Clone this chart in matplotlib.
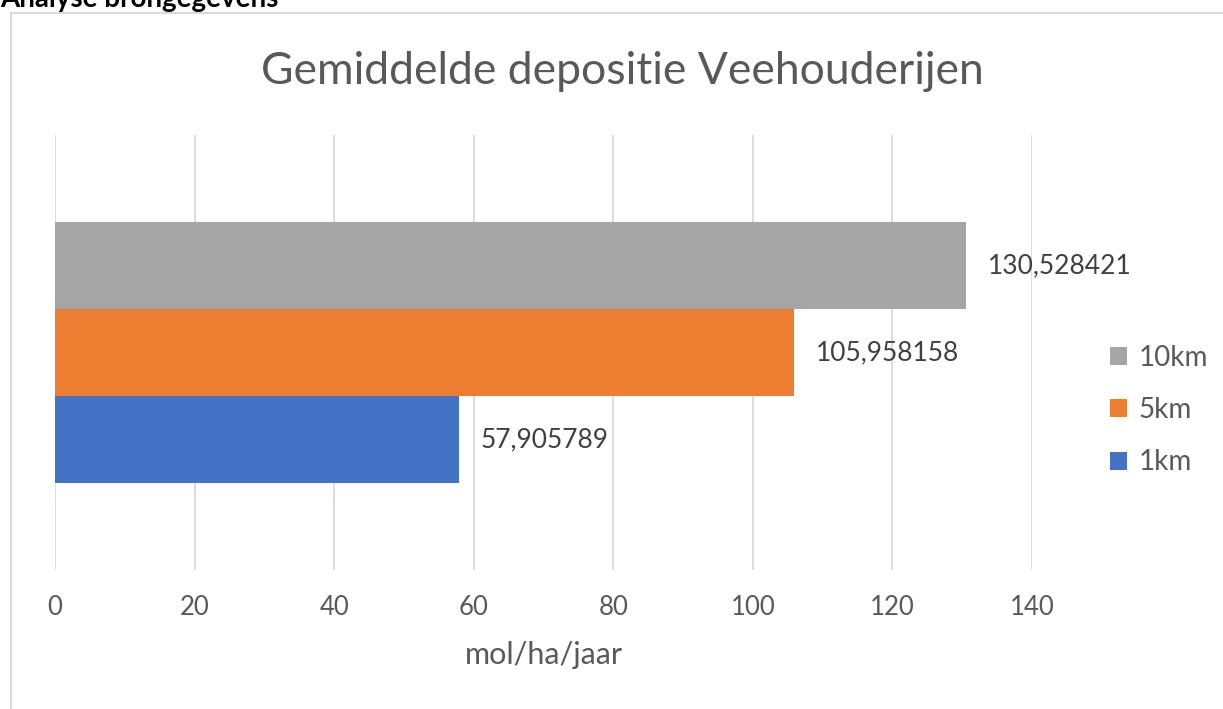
import matplotlib.pyplot as plt
from matplotlib.patches import Rectangle

series = ["1km", "5km", "10km"]
values = [57.905789, 105.958158, 130.528421]
colors = ["#4472C4", "#ED7D31", "#A5A5A5"]
xticks = [0, 20, 40, 60, 80, 100, 120, 140]

plt.rcParams['font.family'] = ['Lato', 'DejaVu Sans']
txt = "#595959"

W, H = 1223, 709
fig = plt.figure(figsize=(W / 100, H / 100), dpi=100)

# chart frame
fig.patches.append(Rectangle((11 / W, -0.1), 1.2, (H - 13) / H + 0.1, transform=fig.transFigure,
                             fill=False, edgecolor="#D9D9D9", linewidth=1.5))
# page heading, cut off at the top like in the screenshot
fig.text(0, 1 - 7 / H, "Analyse brongegevens", fontsize=20, fontweight="bold",
         color="black", ha="left", va="baseline")

ax = fig.add_axes([55 / W, 1 - 570 / H, (1032 - 55) / W, (570 - 135) / H])
bh = 0.2
offsets = [bh, 0, -bh]   # 1km at the bottom, 10km on top
for s, v, c, o in zip(series, values, colors, offsets):
    ax.barh(o, v, height=bh, color=c, label=s)
    ax.text(v + 3.1, o, f"{v:.6f}".replace(".", ","), va="center", ha="left",
            fontsize=19, color="#404040")

ax.set_xlim(0, 140)
ax.set_ylim(0.5, -0.5)
ax.set_xticks(xticks)
ax.set_yticks([])
ax.grid(axis="x", color="#D9D9D9", linewidth=1.3)
ax.set_axisbelow(True)
for sp in ax.spines.values():
    sp.set_visible(False)
ax.tick_params(axis="x", length=0, labelsize=18.5, labelcolor=txt, pad=18)
ax.set_xlabel("mol/ha/jaar", fontsize=22, color=txt, labelpad=15)

fig.text(622 / W, 1 - 72 / H, "Gemiddelde depositie Veehouderijen", fontsize=32,
         color=txt, ha="center", va="center")

h, l = ax.get_legend_handles_labels()
leg = fig.legend(h[::-1], l[::-1], loc="center left", bbox_to_anchor=(1096 / W, 1 - 410 / H),
                 frameon=False, fontsize=20, labelcolor=txt, handlelength=0.62, handleheight=0.62,
                 handletextpad=0.4, labelspacing=0.95, borderpad=0)

fig.savefig("out.png", dpi=100)
